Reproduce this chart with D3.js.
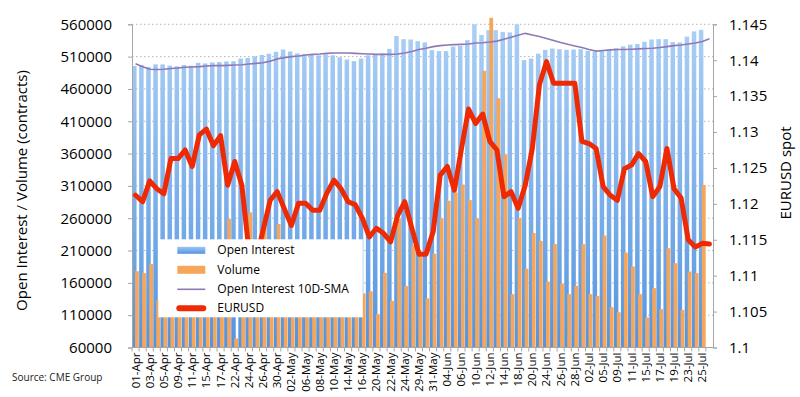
<!DOCTYPE html>
<html>
<head>
<meta charset="utf-8">
<script src="https://d3js.org/d3.v7.min.js"></script>
<style>
  body { margin: 0; background: #fff; }
  svg { display: block; font-family: "Open Sans", sans-serif; }
</style>
</head>
<body>
<div id="chart"></div>
<script>
// trading days, 01-Apr .. 26-Jul
var dates = [
  "01-Apr","02-Apr","03-Apr","04-Apr","05-Apr","08-Apr","09-Apr","10-Apr","11-Apr","12-Apr",
  "15-Apr","16-Apr","17-Apr","18-Apr","22-Apr","23-Apr","24-Apr","25-Apr","26-Apr","29-Apr","30-Apr",
  "01-May","02-May","03-May","06-May","07-May","08-May","09-May","10-May","13-May","14-May",
  "15-May","16-May","17-May","20-May","21-May","22-May","23-May","24-May","28-May","29-May","30-May","31-May",
  "03-Jun","04-Jun","05-Jun","06-Jun","07-Jun","10-Jun","11-Jun","12-Jun","13-Jun","14-Jun",
  "17-Jun","18-Jun","19-Jun","20-Jun","21-Jun","24-Jun","25-Jun","26-Jun","27-Jun","28-Jun",
  "01-Jul","02-Jul","03-Jul","05-Jul","08-Jul","09-Jul","10-Jul","11-Jul","12-Jul",
  "15-Jul","16-Jul","17-Jul","18-Jul","19-Jul","22-Jul","23-Jul","24-Jul","25-Jul","26-Jul"
];

var openInterest = [
  495500, 497000, 494000, 498000, 498000, 496000, 495000, 497000, 496000, 500500,
  499500, 501000, 501500, 502500, 503000, 507000, 508000, 510500, 512500, 514500,
  517500, 521000, 518000, 515000, 513500, 513000, 512000, 513500, 512000, 509000,
  505500, 503000, 507000, 512000, 514000, 515000, 522000, 542000, 537000, 536500,
  534000, 532000, 520000, 518500, 518500, 525500, 526500, 535500, 560000, 543500,
  551000, 551000, 548000, 547500, 560000, 504500, 507000, 514500, 520500, 522500,
  521500, 520500, 521000, 521500, 519000, 517500, 519500, 520000, 523000, 526000,
  528500, 529500, 533000, 536500, 537000, 537000, 532500, 532000, 541000, 549000, 551500
];

var volume = [
  178000, 175000, 189000, 133000, 170000, 150000, 185000, 160000, 200000, 145000,
  175000, 190000, 165000, 259000, 74000, 210000, 269000, 195000, 258000, 180000,
  251000, 200000, 160000, 185000, 150000, 170000, 140000, 190000, 165000, 150000,
  175000, 130000, 143500, 147000, 111500, 175500, 132000, 258500, 155000, 218000,
  200000, 136000, 205000, 260000, 287000, 300000, 312000, 288000, 260000, 488000,
  570000, 445500, 359000, 142500, 260000, 182000, 237000, 225000, 162000, 220000,
  159000, 142500, 155400, 219800, 142500, 139900, 233200, 122400, 114600, 206900,
  185300, 142500, 106400, 151800, 119300, 213600, 190400, 118200, 177500, 175000, 311500
];

var oiSma = [
  499000, 494500, 490500, 490000, 490500, 491500, 492500, 493500, 494000, 494500,
  495500, 496000, 496000, 496500, 497000, 497500, 498500, 499500, 500500, 503000,
  506500, 508500, 510000, 511000, 512500, 513500, 514000, 515000, 515500, 515500,
  515500, 515000, 514500, 514000, 513500, 513500, 513500, 514000, 515500, 518000,
  521000, 523000, 525500, 527000, 528000, 528500, 529000, 529500, 531000, 531500,
  532500, 534000, 537000, 540000, 543000, 546000, 543500, 541000, 538000, 535000,
  532000, 529000, 526500, 524000, 521000, 518500, 519500, 520500, 521000, 521000,
  521500, 522000, 522500, 523000, 524000, 525500, 527000, 528000, 529500, 531000, 533500, 537500
];

var eurusd = [
  1.1212, 1.1203, 1.1232, 1.1221, 1.1214, 1.1263, 1.1263, 1.1275, 1.1252, 1.1296,
  1.1304, 1.1281, 1.1295, 1.1226, 1.1259, 1.1226, 1.1135, 1.1122, 1.1163, 1.1205,
  1.1217, 1.1193, 1.1170, 1.1201, 1.1201, 1.1191, 1.1191, 1.1215, 1.1233, 1.1221,
  1.1203, 1.1199, 1.1180, 1.1154, 1.1166, 1.1159, 1.1147, 1.1184, 1.1203, 1.1166,
  1.1130, 1.1130, 1.1161, 1.1240, 1.1252, 1.1219, 1.1277, 1.1332, 1.1312, 1.1325,
  1.1287, 1.1275, 1.1210, 1.1217, 1.1194, 1.1226, 1.1277, 1.1366, 1.1398, 1.1368,
  1.1368, 1.1368, 1.1368, 1.1287, 1.1284, 1.1277, 1.1224, 1.1212, 1.1205, 1.1249,
  1.1254, 1.1270, 1.1259, 1.1210, 1.1224, 1.1277, 1.1221, 1.1208, 1.1150, 1.1140, 1.1145, 1.1144
];

var leftTicks = [60000, 110000, 160000, 210000, 260000, 310000, 360000, 410000, 460000, 510000, 560000];
var rightTicks = [1.1, 1.105, 1.11, 1.115, 1.12, 1.125, 1.13, 1.135, 1.14, 1.145];

var legendItems = ["Open Interest", "Volume", "Open Interest 10D-SMA", "EURUSD"];

var margin = {top: 24.3, right: 87, bottom: 49.5, left: 132},
    width = 800 - margin.left - margin.right,
    height = 397 - margin.top - margin.bottom;

var x = d3.scaleBand()
    .domain(dates)
    .range([0, width])
    .padding(0);
var y = d3.scaleLinear()
    .domain([60000, 560000])
    .range([height, 0]);
var y2 = d3.scaleLinear()
    .domain([1.1, 1.145])
    .range([height, 0]);

var bw = x.bandwidth();
function cx(d) { return x(d) + bw / 2; }

var svgRoot = d3.select("#chart").append("svg")
    .attr("width", 800)
    .attr("height", 397);

var defs = svgRoot.append("defs");
var grad = defs.append("linearGradient")
    .attr("id", "oiGrad")
    .attr("gradientUnits", "userSpaceOnUse")
    .attr("x1", 0).attr("y1", 0)
    .attr("x2", 0).attr("y2", height);
grad.append("stop").attr("offset", "0%").attr("stop-color", "#acd0f6");
grad.append("stop").attr("offset", "100%").attr("stop-color", "#5394e0");

var legGrad = defs.append("linearGradient")
    .attr("id", "legGrad")
    .attr("x1", 0).attr("y1", 0).attr("x2", 0).attr("y2", 1);
legGrad.append("stop").attr("offset", "0%").attr("stop-color", "#9cc6f3");
legGrad.append("stop").attr("offset", "100%").attr("stop-color", "#5394e0");

var svg = svgRoot.append("g")
    .attr("transform", "translate(" + margin.left + "," + margin.top + ")");

// dotted gridlines
svg.selectAll(".grid")
    .data(leftTicks.slice(1))
    .enter().append("line")
    .attr("class", "grid")
    .attr("x1", 0)
    .attr("x2", width)
    .attr("y1", function(d) { return y(d); })
    .attr("y2", function(d) { return y(d); })
    .attr("stroke", "#b4b4b4")
    .attr("stroke-width", 1)
    .attr("stroke-dasharray", "1.5,2.5");

// open interest bars
svg.selectAll(".oi")
    .data(openInterest)
    .enter().append("rect")
    .attr("class", "oi")
    .attr("x", function(d, i) { return cx(dates[i]) - 3.5; })
    .attr("width", 4.5)
    .attr("y", function(d) { return y(d); })
    .attr("height", function(d) { return height - y(d); })
    .attr("fill", "url(#oiGrad)");

// volume bars
svg.selectAll(".vol")
    .data(volume)
    .enter().append("rect")
    .attr("class", "vol")
    .attr("x", function(d, i) { return cx(dates[i]) - 0.5; })
    .attr("width", 3.8)
    .attr("y", function(d) { return y(d); })
    .attr("height", function(d) { return height - y(d); })
    .attr("fill", "#f5a65b");

// 10D SMA
var smaLine = d3.line()
    .x(function(d, i) { return cx(dates[i]); })
    .y(function(d) { return y(d); });
svg.append("path")
    .datum(oiSma)
    .attr("d", smaLine)
    .attr("fill", "none")
    .attr("stroke", "#8e79b5")
    .attr("stroke-width", 1.6);

// EURUSD spot
var fxLine = d3.line()
    .x(function(d, i) { return cx(dates[i]); })
    .y(function(d) { return y2(d); });
svg.append("path")
    .datum(eurusd)
    .attr("d", fxLine)
    .attr("fill", "none")
    .attr("stroke", "#ee2a05")
    .attr("stroke-width", 5)
    .attr("stroke-linejoin", "round")
    .attr("stroke-linecap", "round");

// left axis
var yAxis = svg.append("g")
    .call(d3.axisLeft(y).tickValues(leftTicks).tickSize(4).tickPadding(16).tickFormat(d3.format("d")));
yAxis.select(".domain").attr("stroke", "#a6a6a6");
yAxis.selectAll(".tick line").attr("stroke", "#a6a6a6");
yAxis.selectAll("text").attr("font-size", "15px").attr("fill", "#000").attr("font-family", "Open Sans");

// right axis
var y2Axis = svg.append("g")
    .attr("transform", "translate(" + width + ",0)")
    .call(d3.axisRight(y2).tickValues(rightTicks).tickSize(4).tickPadding(12).tickFormat(d3.format(".3~f")));
y2Axis.select(".domain").attr("stroke", "#a6a6a6");
y2Axis.selectAll(".tick line").attr("stroke", "#a6a6a6");
y2Axis.selectAll("text").attr("font-size", "15px").attr("fill", "#000").attr("font-family", "Open Sans");

// bottom axis: tick at each category boundary, label every other day
var xAxis = svg.append("g")
    .attr("transform", "translate(0," + height + ")");
xAxis.append("line")
    .attr("x1", 0).attr("x2", width)
    .attr("stroke", "#a6a6a6");
xAxis.selectAll(".xt")
    .data(dates)
    .enter().append("line")
    .attr("class", "xt")
    .attr("x1", function(d) { return x(d); })
    .attr("x2", function(d) { return x(d); })
    .attr("y1", 0).attr("y2", 4)
    .attr("stroke", "#a6a6a6");
xAxis.selectAll(".xl")
    .data(dates.filter(function(d, i) { return i % 2 === 0 && i < openInterest.length; }))
    .enter().append("text")
    .attr("class", "xl")
    .attr("transform", function(d) { return "translate(" + (cx(d) + 4) + ",5) rotate(-90)"; })
    .attr("text-anchor", "end")
    .attr("font-size", "11.5px")
    .attr("fill", "#000")
    .text(function(d) { return d; });

// legend
var legend = svg.append("g")
    .attr("transform", "translate(" + (158.3 - margin.left) + "," + (239.3 - margin.top) + ")");
legend.append("rect")
    .attr("width", 204.5)
    .attr("height", 78)
    .attr("fill", "#fff");
legend.append("rect")
    .attr("x", 19).attr("y", 7.5)
    .attr("width", 28).attr("height", 7)
    .attr("fill", "url(#legGrad)");
legend.append("rect")
    .attr("x", 19).attr("y", 26.5)
    .attr("width", 28).attr("height", 8)
    .attr("fill", "#f5a65b");
legend.append("line")
    .attr("x1", 19).attr("x2", 47)
    .attr("y1", 50).attr("y2", 50)
    .attr("stroke", "#8e79b5")
    .attr("stroke-width", 1.6);
legend.append("line")
    .attr("x1", 21).attr("x2", 45)
    .attr("y1", 69).attr("y2", 69)
    .attr("stroke", "#ee2a05")
    .attr("stroke-width", 6)
    .attr("stroke-linecap", "round");
legend.selectAll(".lt")
    .data(legendItems)
    .enter().append("text")
    .attr("class", "lt")
    .attr("x", 59)
    .attr("y", function(d, i) { return 15 + i * 19.3; })
    .attr("font-size", "12px")
    .attr("fill", "#000")
    .text(function(d) { return d; });

// axis titles
svgRoot.append("text")
    .attr("transform", "translate(27,190.5) rotate(-90)")
    .attr("text-anchor", "middle")
    .attr("font-size", "15px")
    .attr("fill", "#000")
    .text("Open Interest / Volume (contracts)");
svgRoot.append("text")
    .attr("transform", "translate(791,173) rotate(-90)")
    .attr("text-anchor", "middle")
    .attr("font-size", "15px")
    .attr("fill", "#000")
    .text("EURUSD spot");

svgRoot.append("text")
    .attr("x", 12)
    .attr("y", 381)
    .attr("font-size", "10px")
    .attr("fill", "#222")
    .text("Source: CME Group");
</script>
</body>
</html>
